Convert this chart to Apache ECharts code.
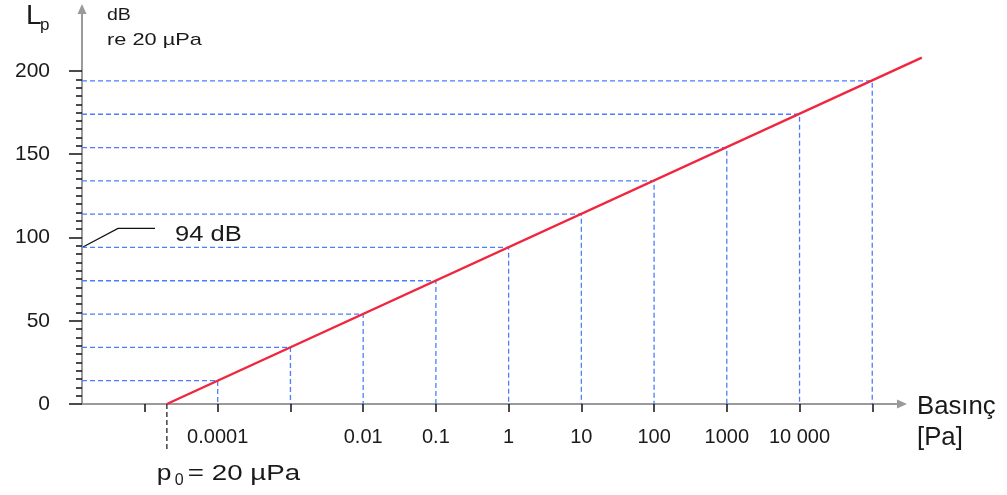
<!DOCTYPE html>
<html>
<head>
<meta charset="utf-8">
<script src="https://cdn.jsdelivr.net/npm/echarts@6/dist/echarts.min.js"></script>
<style>
  html, body { margin: 0; padding: 0; background: #fff; }
  #chart { width: 1007px; height: 495px; }
</style>
</head>
<body>
<div id="chart"></div>
<script>
// Basınç [Pa] decades and the Lp level (dB re 20 µPa) read at each of them
const pressures = [0.0001, 0.001, 0.01, 0.1, 1, 10, 100, 1000, 10000, 100000];
const levels = [14, 34, 54, 74, 94, 114, 134, 154, 174, 194];

// pressure axis ticks and labels
const tickPressures = [0.00001, 0.0001, 0.001, 0.01, 0.1, 1, 10, 100, 1000, 10000, 100000];
const labelPressures = [0.0001, 0.01, 0.1, 1, 10, 100, 1000, 10000];
const labelTexts = ['0.0001', '0.01', '0.1', '1', '10', '100', '1000', '10 000'];

// Lp axis labels
const yLabels = [0, 50, 100, 150, 200];

// red line: from p0 up to the end of the plot
const lineP = [0.00002, 480000];
const lineLp = [0, 208];

const p0 = 0.00002;       // 20 µPa
const p0Drop = -28;       // dashed mark under p0 goes below the axis
const refLevel = 94;      // 94 dB callout

const lg = Math.log10;
const xAxisMin = -5.866;
const xAxisMax = 5.409;
const xWideMax = 5.794;   // same scale, wider grid so the red line can pass the arrow
const yAxisMax = 237.2;

// minor ticks every 5 dB
const yMinor = [];
for (let v = 0; v <= 200; v += 5) yMinor.push(v);

const blue = '#4a7dff';
const red = '#f0263f';
const txt = '#1a1a1a';
const font = 'Liberation Sans, Arial, sans-serif';

const chart = echarts.init(document.getElementById('chart'));

// dashed L-shaped guides: from Lp axis to the line, then down to the pressure axis
const guideSeries = pressures.map((p, i) => ({
    type: 'line',
    silent: true,
    symbol: 'none',
    z: 2,
    lineStyle: { color: blue, width: 1.3, type: [5, 3] },
    data: [[xAxisMin, levels[i]], [lg(p), levels[i]], [lg(p), 0]]
}));

const option = {
    animation: false,
    grid: [
        { left: 82, right: 105, top: 9, bottom: 91 },
        { left: 82, right: 77, top: 9, bottom: 91 }
    ],
    xAxis: [
        {
            type: 'value',
            min: xAxisMin,
            max: xAxisMax,
            axisLine: {
                show: true,
                symbol: ['none', 'triangle'],
                symbolSize: [9, 10],
                lineStyle: { color: '#9a9a9a', width: 2 }
            },
            axisTick: {
                show: true,
                customValues: tickPressures.map(lg),
                length: 8,
                lineStyle: { color: '#111', width: 1.5 }
            },
            axisLabel: {
                customValues: labelPressures.map(lg),
                margin: 23,
                fontSize: 20,
                fontFamily: font,
                color: txt,
                formatter: function (v) {
                    const i = labelPressures.findIndex(p => Math.abs(lg(p) - v) < 1e-6);
                    return i >= 0 ? labelTexts[i] : '';
                }
            },
            splitLine: { show: false }
        },
        {
            gridIndex: 1,
            type: 'value',
            min: xAxisMin,
            max: xWideMax,
            show: false
        }
    ],
    yAxis: [
        {
            type: 'value',
            min: 0,
            max: yAxisMax,
            axisLine: {
                show: true,
                onZero: false,
                symbol: ['none', 'triangle'],
                symbolSize: [9, 10],
                lineStyle: { color: '#9a9a9a', width: 2 }
            },
            axisTick: {
                show: true,
                customValues: yMinor,
                length: 6,
                lineStyle: { color: '#111', width: 1.5 }
            },
            axisLabel: {
                customValues: yLabels,
                margin: 32,
                fontSize: 21,
                fontFamily: font,
                color: txt
            },
            splitLine: { show: false }
        },
        {
            // long ticks every 50 dB
            type: 'value',
            position: 'left',
            min: 0,
            max: yAxisMax,
            axisLine: { show: false, onZero: false },
            axisTick: {
                show: true,
                customValues: yLabels,
                length: 13,
                lineStyle: { color: '#111', width: 1.5 }
            },
            axisLabel: { show: false },
            splitLine: { show: false }
        },
        {
            gridIndex: 1,
            type: 'value',
            min: 0,
            max: yAxisMax,
            show: false
        }
    ],
    series: guideSeries.concat([
        {
            type: 'line',
            silent: true,
            symbol: 'none',
            clip: false,
            z: 3,
            lineStyle: { color: '#111', width: 1.2, type: [5, 3] },
            data: [[lg(p0), 0], [lg(p0), p0Drop]]
        },
        {
            type: 'line',
            xAxisIndex: 1,
            yAxisIndex: 2,
            silent: true,
            symbol: 'none',
            clip: false,
            z: 5,
            lineStyle: { color: red, width: 2.4 },
            data: lineP.map((p, i) => [lg(p), lineLp[i]])
        }
    ])
};

chart.setOption(option);

// annotations placed from data values
const ref = chart.convertToPixel({ gridIndex: 0 }, [xAxisMin, refLevel]);
const p0px = chart.convertToPixel({ gridIndex: 0 }, [lg(p0), 0]);

function label(text, x, y, size, sx) {
    return {
        type: 'text', x: x, y: y, scaleX: sx || 1,
        style: { text: text, font: size + 'px ' + font, fill: txt, verticalAlign: 'middle' }
    };
}

chart.setOption({
    graphic: [
        label('L', 26, 16, 28),
        label('p', 40, 25, 17),
        label('dB', 107, 16, 16, 1.22),
        label('re 20 µPa', 107, 40, 17, 1.28),
        {
            type: 'polyline',
            shape: { points: [[ref[0], ref[1]], [ref[0] + 36, ref[1] - 19], [ref[0] + 73, ref[1] - 19]] },
            style: { stroke: '#111', lineWidth: 1.3, fill: null }
        },
        label('94 dB', ref[0] + 93, ref[1] - 13, 22, 1.16),
        label('Basınç', 917, 407, 25, 1.03),
        label('[Pa]', 917, 438, 25, 1.03),
        label('p', p0px[0] - 10, 474, 22, 1.2),
        label('0', p0px[0] + 8, 481, 16, 1.0),
        label('= 20 µPa', p0px[0] + 21, 474, 22, 1.26)
    ]
});
</script>
</body>
</html>
